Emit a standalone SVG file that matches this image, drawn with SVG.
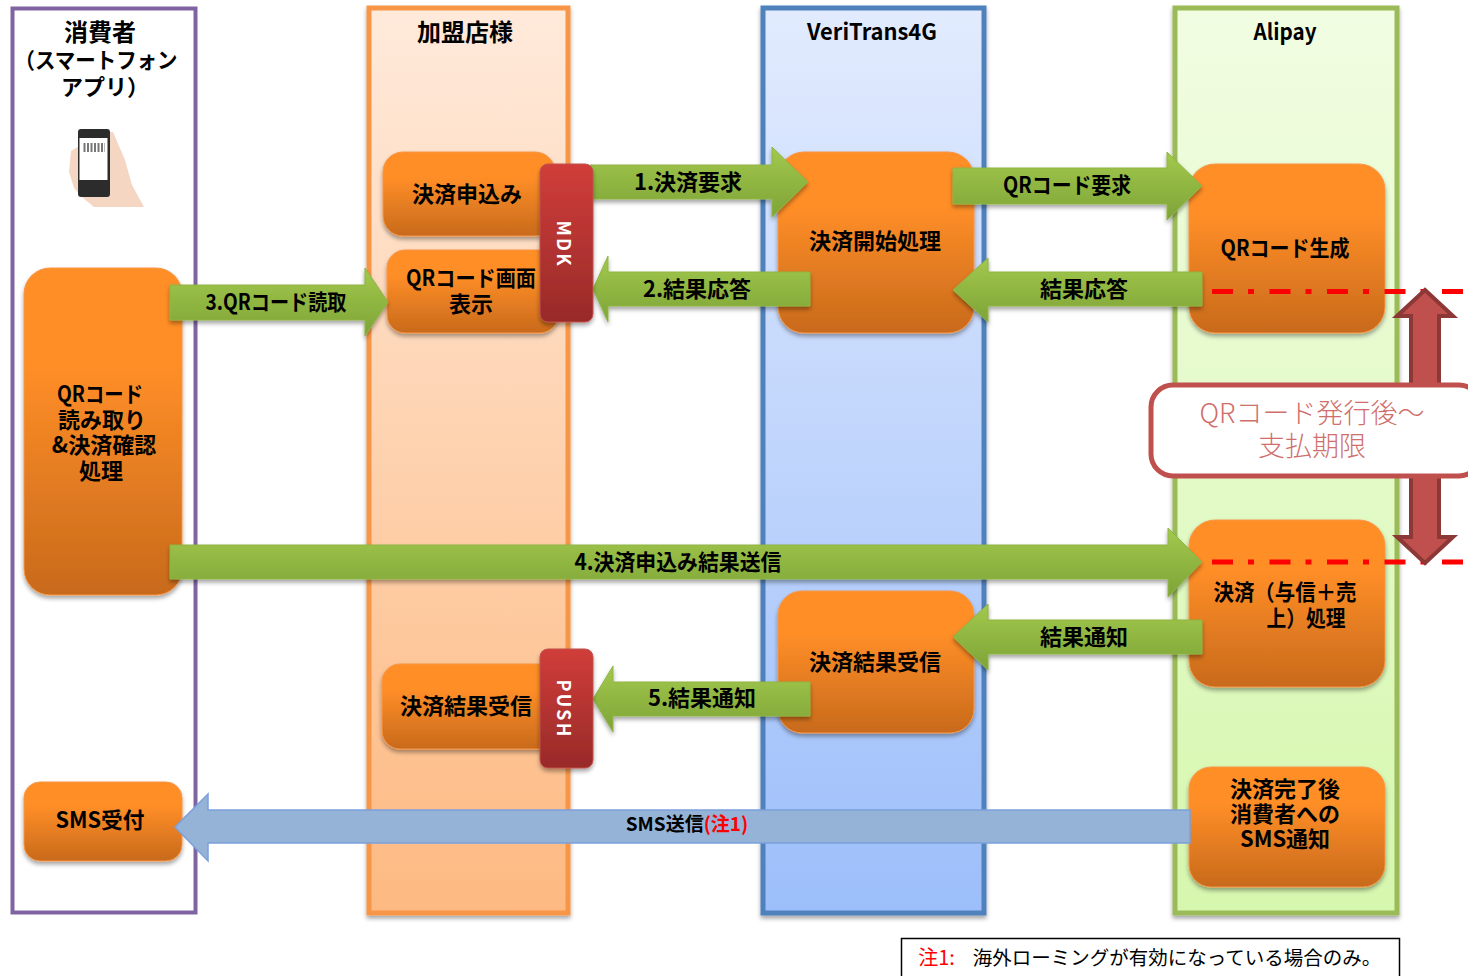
<svg xmlns="http://www.w3.org/2000/svg" width="1468" height="976" viewBox="0 0 1468 976">
<defs>
<linearGradient id="gN" x1="0" y1="0" x2="0" y2="1"><stop offset="0.3" stop-color="#ff8e27"/><stop offset="1" stop-color="#c86a1c"/></linearGradient>
<linearGradient id="gA" x1="0" y1="0" x2="0" y2="1"><stop offset="0" stop-color="#a2c94c"/><stop offset="1" stop-color="#7ea338"/></linearGradient>
<linearGradient id="gR" x1="0" y1="0" x2="0" y2="1"><stop offset="0" stop-color="#d03d3a"/><stop offset="1" stop-color="#982a28"/></linearGradient>
<linearGradient id="gO" x1="0" y1="0" x2="0" y2="1"><stop offset="0" stop-color="#ffeadb"/><stop offset="1" stop-color="#fdb981"/></linearGradient>
<linearGradient id="gB" x1="0" y1="0" x2="0" y2="1"><stop offset="0" stop-color="#e2ebfe"/><stop offset="1" stop-color="#9cbefa"/></linearGradient>
<linearGradient id="gG" x1="0" y1="0" x2="0" y2="1"><stop offset="0" stop-color="#f1fde2"/><stop offset="1" stop-color="#d6f7ae"/></linearGradient>
<filter id="sh" x="-10%" y="-10%" width="120%" height="125%"><feDropShadow dx="0" dy="3" stdDeviation="2" flood-color="#000" flood-opacity="0.35"/></filter>
</defs>
<style>
text{font-family:"Noto Sans CJK JP","Liberation Sans",sans-serif;text-anchor:middle;dominant-baseline:central;fill:#000}
.t{font-size:22px;font-weight:700}
.h{font-size:24px;font-weight:700}
.s{font-size:19px;font-weight:700}
.w{font-size:18px;font-weight:700;fill:#fff}
.p{font-size:27px;font-weight:300;fill:#cf6f6c}
.n{fill:url(#gN);stroke:#f79646;stroke-width:1;filter:url(#sh)}
.a{fill:url(#gA);stroke:#8fb545;stroke-width:1;filter:url(#sh)}
.m{fill:url(#gR);stroke:#c0504d;stroke-width:1;filter:url(#sh)}
.l{stroke-width:5;filter:url(#sh)}
.d{stroke:#ff0000;stroke-width:5;fill:none;stroke-dasharray:21 15 6 15.5}
</style>
<g id="lane-consumer"><rect x="12.500" y="8.500" width="183" height="904" fill="#fff" stroke="#8064a2" stroke-width="4"/><text class="h"><tspan x="100" y="30">消費者</tspan><tspan x="96" y="58" font-size="22" textLength="163" lengthAdjust="spacingAndGlyphs">（スマートフォン</tspan><tspan x="105" y="85" font-size="22">アプリ）</tspan></text></g>
<g id="lane-merchant"><rect x="369" y="8" width="199" height="905" fill="url(#gO)" stroke="#f79646" class="l"/><text class="h" x="465" y="30">加盟店様</text></g>
<g id="lane-veritrans"><rect x="763" y="8" width="221" height="905" fill="url(#gB)" stroke="#4f81bd" class="l"/><text class="t" x="872" y="30" textLength="130" lengthAdjust="spacingAndGlyphs">VeriTrans4G</text></g>
<g id="lane-alipay"><rect x="1175" y="8" width="222" height="905" fill="url(#gG)" stroke="#9bbb59" class="l"/><text class="t" x="1285" y="30" textLength="63" lengthAdjust="spacingAndGlyphs">Alipay</text></g>
<g id="phone">
<path d="M78 147 L71 151 L69 172 L74 188 L82 197 L94 207 L144 207 L132 185 L125 160 L113 132 L108 132 L108 190 L78 190Z" fill="#f4d6c2"/>
<rect x="78" y="129" width="32" height="68" rx="3" fill="#2c2c2c"/>
<rect x="79.500" y="138" width="28" height="42" fill="#fff"/>
<path d="M83.500 147.500H105" stroke="#777" stroke-width="9" stroke-dasharray="2 1.500" fill="none"/>
</g>
<g id="node-qrread"><rect class="n" x="24" y="268" width="158" height="327" rx="26"/><text class="t"><tspan x="100" y="392" textLength="86" lengthAdjust="spacingAndGlyphs">QRコード</tspan><tspan x="102" y="418">読み取り</tspan><tspan x="104" y="443">&amp;決済確認</tspan><tspan x="101" y="469">処理</tspan></text></g>
<g id="node-apply"><rect class="n" x="383" y="152" width="172" height="84" rx="20"/><text class="t" x="467" y="192">決済申込み</text></g>
<g id="node-qrscreen"><rect class="n" x="387" y="250" width="171" height="83" rx="18"/><text class="t"><tspan x="471" y="276" textLength="130" lengthAdjust="spacingAndGlyphs">QRコード画面</tspan><tspan x="471" y="302">表示</tspan></text></g>
<g id="node-result-m"><rect class="n" x="382" y="664" width="178" height="85" rx="18"/><text class="t" x="466" y="704">決済結果受信</text></g>
<g id="node-sms-recv"><rect class="n" x="24" y="782" width="158" height="79" rx="16"/><text class="t" x="100" y="818" textLength="89" lengthAdjust="spacingAndGlyphs">SMS受付</text></g>
<g id="node-start"><rect class="n" x="778" y="152" width="196" height="181" rx="26"/><text class="t" x="875" y="239">決済開始処理</text></g>
<g id="node-result-v"><rect class="n" x="778" y="591" width="196" height="142" rx="24"/><text class="t" x="875" y="660">決済結果受信</text></g>
<g id="node-qrgen"><rect class="n" x="1189" y="164" width="196" height="169" rx="26"/><text class="t" x="1285" y="246" textLength="129" lengthAdjust="spacingAndGlyphs">QRコード生成</text></g>
<g id="node-pay"><rect class="n" x="1189" y="520" width="196" height="167" rx="26"/><text class="t"><tspan x="1285" y="590" textLength="143" lengthAdjust="spacingAndGlyphs">決済（与信＋売</tspan><tspan x="1306" y="616" textLength="79" lengthAdjust="spacingAndGlyphs">上）処理</tspan></text></g>
<g id="node-smsnotice"><rect class="n" x="1189" y="767" width="196" height="120" rx="22"/><text class="t"><tspan x="1285" y="787">決済完了後</tspan><tspan x="1285" y="812">消費者への</tspan><tspan x="1285" y="837" textLength="90" lengthAdjust="spacingAndGlyphs">SMS通知</tspan></text></g>
<g id="connectors">
<path class="a" d="M590 165H772V147L808 182L772 217V199H590Z"/><text class="t" x="688" y="180">1.決済要求</text>
<path class="a" d="M953 168H1167V152L1202 186L1167 220V204H953Z"/><text class="t" x="1067" y="183" textLength="128" lengthAdjust="spacingAndGlyphs">QRコード要求</text>
<path class="a" d="M810 272H608V256L593 289L608 322V306H810Z"/><text class="t" x="697" y="287">2.結果応答</text>
<path class="a" d="M1202 272H988V258L953 290L988 322V306H1202Z"/><text class="t" x="1084" y="287">結果応答</text>
<path class="a" d="M170 285H365V268L388 302L365 336V320H170Z"/><text class="t" x="276" y="300" textLength="141" lengthAdjust="spacingAndGlyphs">3.QRコード読取</text>
<path class="a" d="M170 545H1168V528L1202 562L1168 597V579H170Z"/><text class="t" x="678" y="560" textLength="207" lengthAdjust="spacingAndGlyphs">4.決済申込み結果送信</text>
<path class="a" d="M1202 620H988V604L953 637L988 670V654H1202Z"/><text class="t" x="1084" y="635">結果通知</text>
<path class="a" d="M810 682H613V666L593 699L613 732V716H810Z"/><text class="t" x="702" y="696">5.結果通知</text>
<path d="M1190 810H208V794L175 827L208 861V843H1190Z" fill="#95b3d7" stroke="#7ba0dd" stroke-width="1.500"/>
<text class="s" x="687" y="822">SMS送信<tspan style="fill:#ff0000">(注1)</tspan></text>
</g>
<g id="node-mdk"><rect class="m" x="540" y="164" width="53" height="158" rx="8"/><text class="w" transform="translate(565 243) rotate(90)" textLength="45" lengthAdjust="spacing">MDK</text></g>
<g id="node-push"><rect class="m" x="540" y="649" width="53" height="119" rx="8"/><text class="w" transform="translate(565 708) rotate(90)" textLength="57" lengthAdjust="spacing">PUSH</text></g>
<g id="period">
<path d="M1212 291.500H1468" class="d"/><path d="M1212 562H1468" class="d"/>
<path d="M1425 290L1453 316H1439V537H1453L1425 563L1397 537H1411V316H1397Z" fill="#c0504d" stroke="#8c3836" stroke-width="4"/>
<rect x="1151" y="385" width="330" height="91" rx="22" fill="#fff" stroke="#c0504d" stroke-width="5"/>
<text class="p"><tspan x="1312" y="411">QRコード発行後～</tspan><tspan x="1312" y="444">支払期限</tspan></text>
</g>
<g id="note"><rect x="901.500" y="938.500" width="498" height="50" fill="#fff" stroke="#000" stroke-width="1.500"/>
<text x="936.500" y="956" font-size="20" style="fill:#ff0000">注1:</text><text x="1177" y="956" font-size="19.500">海外ローミングが有効になっている場合のみ。</text></g>
</svg>
